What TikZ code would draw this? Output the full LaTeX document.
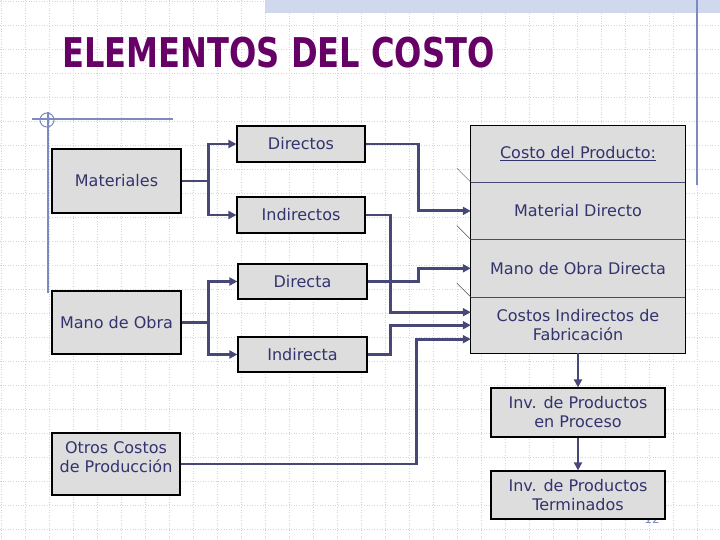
\documentclass[tikz,border=0pt]{standalone}
\usepackage{fontspec}
\setmainfont{DejaVu Sans}
\usepackage{tikz}
\usetikzlibrary{arrows.meta,positioning}
\definecolor{titulo}{RGB}{102,0,102}
\definecolor{texto}{RGB}{51,51,110}
\definecolor{linea}{RGB}{72,72,120}
\definecolor{caja}{RGB}{221,221,221}
\definecolor{marco}{RGB}{125,138,190}
\definecolor{rejilla}{RGB}{212,212,212}
\definecolor{banda}{RGB}{208,216,238}
\tikzset{
    cajagris/.style={
        draw=black,
        line width=1.2pt,
        fill=caja,
        text=texto,
        inner sep=0pt,
        align=center,
        font=\fontsize{16}{19}\selectfont
    },
    % secciones del cuadro de la derecha
    seccion/.style={
        fill=caja,
        text=texto,
        inner sep=0pt,
        align=center,
        minimum width=214pt,
        font=\fontsize{16}{19}\selectfont
    },
    flecha/.style={
        line width=2.8pt,
        linea,
        ->,
        >={Triangle[length=8pt, width=8pt]}
    },
    divisor/.style={line width=0.8pt, linea}
}

\begin{document}
\begin{tikzpicture}[x=1pt,y=-1pt]
   \useasboundingbox (0,0) rectangle (720,540);

    % rejilla de fondo
    \foreach \k in {0,...,29}
      \draw[rejilla, dotted, line width=0.6pt] ({1+24*\k},0) -- ({1+24*\k},540);
    \foreach \k in {0,...,22}
      \draw[rejilla, dotted, line width=0.6pt] (0,{1+24*\k}) -- (720,{1+24*\k});

    % adornos de la plantilla
    \fill[banda] (265,0) rectangle (720,13);
    \draw[marco, line width=1.5pt] (697,0) -- (697,185);
    \draw[marco, line width=1.2pt] (32,119) -- (173,119) (48,112) -- (48,293);
    \draw[marco, line width=1pt] (47,120) circle (7pt);

    \node[anchor=base west, inner sep=0pt, text=titulo,
          font=\fontsize{41}{41}\selectfont\bfseries] (titulo) at (62,68)
          {\scalebox{0.784}[1]{ELEMENTOS DEL COSTO}};

    % cajas de la izquierda
    \node[cajagris, minimum width=129pt, minimum height=64pt] (mat) at (116.5,181) {Materiales};
    \node[cajagris, minimum width=128pt, minimum height=36pt] (dir) at (301,144) {Directos};
    \node[cajagris, minimum width=128pt, minimum height=36pt] (ind) at (301,215) {Indirectos};
    \node[cajagris, minimum width=129pt, minimum height=35pt] (dta) at (302.5,281.5) {Directa};
    \node[cajagris, minimum width=129pt, minimum height=63pt] (mo) at (116.5,322.5) {Mano de Obra};
    \node[cajagris, minimum width=129pt, minimum height=35pt] (ita) at (302.5,354.5) {Indirecta};
    \node[cajagris, minimum width=128pt, minimum height=62pt,
          label={[text=texto, align=center, font=\fontsize{16}{19}\selectfont, yshift=7pt]center:Otros Costos\\de Producción}]
          (otros) at (116,464) {};

    % cuadro del costo del producto
    \node[seccion, minimum height=56pt] (cp) at (578,154) {\underline{Costo del Producto:}};
    \node[seccion, minimum height=57pt, below=0pt of cp] (md) {Material Directo};
    \node[seccion, minimum height=57pt, below=0pt of md] (mod) {Mano de Obra Directa};
    \node[seccion, minimum height=56pt, below=0pt of mod] (cif) {Costos Indirectos de\\Fabricación};
    \draw[divisor] (cp.south west) -- (cp.south east);
    \draw[divisor] (md.south west) -- (md.south east);
    \draw[divisor] (mod.south west) -- (mod.south east);
    \draw[black, line width=1.2pt] (cp.north west) rectangle (cif.south east);
    \draw[black!70, line width=0.5pt] ([shift={(-14pt,14pt)}]cp.south west) -- (cp.south west);
    \draw[black!70, line width=0.5pt] ([shift={(-14pt,14pt)}]md.south west) -- (md.south west);
    \draw[black!70, line width=0.5pt] ([shift={(-14pt,14pt)}]mod.south west) -- (mod.south west);

    % inventarios
    \node[text=marco, font=\fontsize{12}{12}\selectfont, anchor=base] (pag) at (652,523) {12};
    \node[cajagris, minimum width=174pt, minimum height=49pt] (proc) at (578,412.5) {Inv. de Productos\\en Proceso};
    \node[cajagris, minimum width=174pt, minimum height=48pt] (term) at (578,495) {Inv. de Productos\\Terminados};

    % flechas
    \draw[flecha] (mat.east) -- ++(27,0) |- (dir.west);
    \draw[flecha] (mat.east) -- ++(27,0) |- (ind.west);
    \draw[flecha] (mo.east) -- ++(27,0) |- (dta.west);
    \draw[flecha] (mo.east) -- ++(27,0) |- (ita.west);
    \draw[flecha] (dir.east) -| ([xshift=-52pt]md.west) -- (md.west);
    \draw[flecha] (ind.east) -| ([shift={(-80pt,13pt)}]cif.west) -- ([yshift=13pt]cif.west);
    \draw[flecha] (dta.east) -| ([xshift=-52pt]mod.west) -- (mod.west);
    \draw[flecha] (ita.east) -| ([xshift=-80pt]cif.west) -- (cif.west);
    \draw[flecha] (otros.east) -| ([shift={(-54pt,-14pt)}]cif.west) -- ([yshift=-14pt]cif.west);
    \draw[flecha] (cif.south) -- (proc.north);
    \draw[flecha] (proc.south) -- (term.north);

\end{tikzpicture}
\end{document}
